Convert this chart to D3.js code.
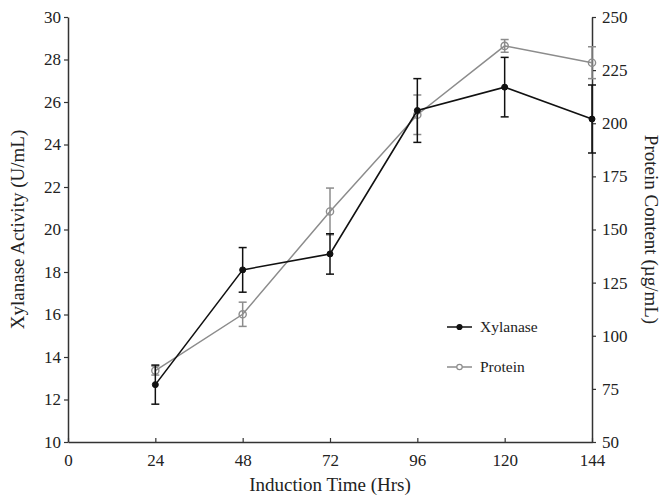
<!DOCTYPE html>
<html>
<head>
<meta charset="utf-8">
<script src="https://cdn.jsdelivr.net/npm/d3@7"></script>
<style>
  html, body { margin: 0; padding: 0; background: #fff; }
  svg { display: block; font-family: "Liberation Serif", "DejaVu Serif", serif; }
</style>
</head>
<body>
<svg id="chart" width="662" height="497"></svg>
<script>
const hours = [24, 48, 72, 96, 120, 144];
const xylanase = [12.7, 18.1, 18.85, 25.6, 26.7, 25.2];
const xylanaseErr = [0.92, 1.05, 0.95, 1.5, 1.4, 1.6];
const protein = [83.6, 110.1, 158.5, 204, 236.4, 228.5];
const proteinErr = [2.1, 5.7, 11, 9.3, 3, 7.5];

const xTicks = [0, 24, 48, 72, 96, 120, 144];
const yLeftTicks = [10, 12, 14, 16, 18, 20, 22, 24, 26, 28, 30];
const yRightTicks = [50, 75, 100, 125, 150, 175, 200, 225, 250];

const margin = { top: 17, right: 70, bottom: 55, left: 68 };
const width = 662, height = 497;
const innerW = width - margin.left - margin.right;
const innerH = height - margin.top - margin.bottom;

const svg = d3.select("#chart");
const g = svg.append("g").attr("transform", `translate(${margin.left},${margin.top})`);

const x = d3.scaleLinear().domain([0, 144]).range([0, innerW]);
const yL = d3.scaleLinear().domain([10, 30]).range([innerH, 0]);
const yR = d3.scaleLinear().domain([50, 250]).range([innerH, 0]);

const axisColor = "#333";
const xyColor = "#111";
const protColor = "#8c8c8c";

function styleAxis(sel) {
  sel.selectAll(".domain").attr("stroke", axisColor).attr("stroke-width", 1.5);
  sel.selectAll(".tick line").attr("stroke", axisColor).attr("stroke-width", 1.2);
  sel.selectAll(".tick text")
    .attr("fill", "#222")
    .attr("font-size", 17)
    .attr("font-family", "Liberation Serif, serif");
}

// bottom axis, ticks point inward
const gx = g.append("g")
  .attr("transform", `translate(0,${innerH})`)
  .call(d3.axisBottom(x).tickValues(xTicks).tickSizeInner(-4).tickSizeOuter(0).tickPadding(8));
styleAxis(gx);
gx.selectAll(".tick text").attr("dy", "0.95em");

const gyl = g.append("g")
  .call(d3.axisLeft(yL).tickValues(yLeftTicks).tickSizeInner(4).tickSizeOuter(0).tickPadding(3));
styleAxis(gyl);

const gyr = g.append("g")
  .attr("transform", `translate(${innerW},0)`)
  .call(d3.axisRight(yR).tickValues(yRightTicks).tickSizeInner(4).tickSizeOuter(0).tickPadding(6));
styleAxis(gyr);

// axis titles
svg.append("text")
  .attr("x", margin.left + innerW / 2)
  .attr("y", 491)
  .attr("text-anchor", "middle")
  .attr("font-size", 19)
  .attr("fill", "#222")
  .text("Induction Time (Hrs)");

svg.append("text")
  .attr("transform", `translate(24,${margin.top + innerH / 2}) rotate(-90)`)
  .attr("text-anchor", "middle")
  .attr("font-size", 19)
  .attr("fill", "#222")
  .text("Xylanase Activity (U/mL)");

svg.append("text")
  .attr("transform", `translate(645,${margin.top + innerH / 2}) rotate(90)`)
  .attr("text-anchor", "middle")
  .attr("font-size", 19)
  .attr("fill", "#222")
  .text("Protein Content (\u00b5g/mL)");

function drawSeries(vals, errs, yScale, color, lineW, filled) {
  const pts = hours.map((h, i) => ({ h, v: vals[i], e: errs[i] }));
  const line = d3.line().x(d => x(d.h)).y(d => yScale(d.v));
  g.append("path")
    .datum(pts)
    .attr("fill", "none")
    .attr("stroke", color)
    .attr("stroke-width", lineW)
    .attr("d", line);

  const eb = g.append("g").attr("stroke", color).attr("stroke-width", 1.5);
  pts.forEach(d => {
    const cx = x(d.h);
    const y0 = yScale(d.v - d.e), y1 = yScale(d.v + d.e);
    eb.append("line").attr("x1", cx).attr("x2", cx).attr("y1", y0).attr("y2", y1);
    eb.append("line").attr("x1", cx - 4).attr("x2", cx + 4).attr("y1", y0).attr("y2", y0);
    eb.append("line").attr("x1", cx - 4).attr("x2", cx + 4).attr("y1", y1).attr("y2", y1);
  });

  g.append("g").selectAll("circle")
    .data(pts)
    .join("circle")
    .attr("cx", d => x(d.h))
    .attr("cy", d => yScale(d.v))
    .attr("r", filled ? 3 : 3.6)
    .attr("fill", filled ? color : "none")
    .attr("stroke", color)
    .attr("stroke-width", filled ? 1 : 1.4);
}

drawSeries(protein, proteinErr, yR, protColor, 1.5, false);
drawSeries(xylanase, xylanaseErr, yL, xyColor, 1.6, true);

// legend
const legend = svg.append("g").attr("transform", "translate(447,327)");
const legendItems = [
  { label: "Xylanase", color: xyColor, filled: true },
  { label: "Protein", color: protColor, filled: false },
];
legendItems.forEach((it, i) => {
  const row = legend.append("g").attr("transform", `translate(0,${i * 40})`);
  row.append("line").attr("x1", 0).attr("x2", 25).attr("y1", 0).attr("y2", 0)
    .attr("stroke", it.color).attr("stroke-width", 1.5);
  row.append("circle").attr("cx", 12.5).attr("cy", 0).attr("r", it.filled ? 2.5 : 2.7)
    .attr("fill", it.filled ? it.color : "#fff").attr("stroke", it.color).attr("stroke-width", 1.2);
  row.append("text").attr("x", 33).attr("y", 0).attr("dy", "0.35em")
    .attr("font-size", 15.5).attr("fill", "#222").text(it.label);
});
</script>
</body>
</html>
